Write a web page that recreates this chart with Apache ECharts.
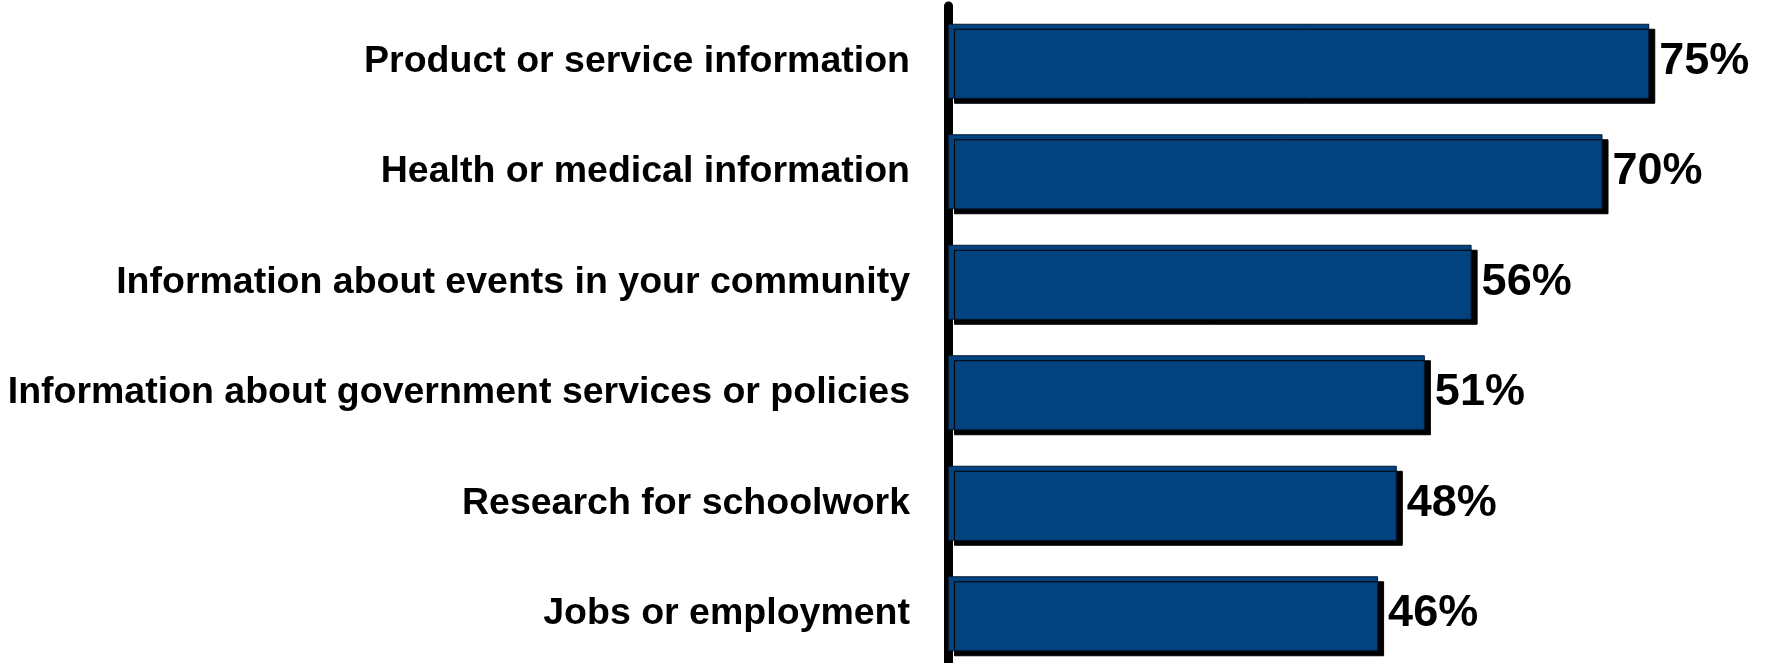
<!DOCTYPE html>
<html>
<head>
<meta charset="utf-8">
<script src="https://cdn.jsdelivr.net/npm/echarts@6/dist/echarts.min.js"></script>
<style>
  html, body { margin: 0; padding: 0; background: #fff; }
  #chart { width: 1765px; height: 663px; }
</style>
</head>
<body>
<div id="chart"></div>
<script>
// share of respondents, top to bottom
const categories = [
  'Product or service information',
  'Health or medical information',
  'Information about events in your community',
  'Information about government services or policies',
  'Research for schoolwork',
  'Jobs or employment'
]
const values = [75, 70, 56, 51, 48, 46]

const font = 'Liberation Sans, Arial, Helvetica, sans-serif'

let mychart = echarts.init(document.getElementById('chart'))
mychart.setOption({
  animation: false,
  grid: { left: 948, right: 69, top: 6, height: 663, outerBoundsMode: 'none', containLabel: false },
  xAxis: {
    type: 'value',
    min: 0,
    max: 80,
    show: false
  },
  yAxis: {
    type: 'category',
    data: categories,
    inverse: true,
    offset: 3,
    axisLine: { show: true, lineStyle: { color: '#000', width: 9 } },
    axisTick: { show: false },
    axisLabel: {
      margin: 35,
      color: '#000',
      fontFamily: font,
      fontWeight: 'bold',
      fontSize: 37.5
    }
  },
  series: [
    {
      type: 'bar',
      data: values,
      barWidth: 75,
      itemStyle: {
        color: '#02427f',
        borderColor: '#001a33',
        borderWidth: 1,
        shadowColor: '#000',
        shadowBlur: 0,
        shadowOffsetX: 6,
        shadowOffsetY: 5
      },
      label: {
        show: true,
        position: 'right',
        distance: 10,
        formatter: '{c}%',
        color: '#000',
        fontFamily: font,
        fontWeight: 'bold',
        fontSize: 45
      }
    }
  ]
})
</script>
</body>
</html>
